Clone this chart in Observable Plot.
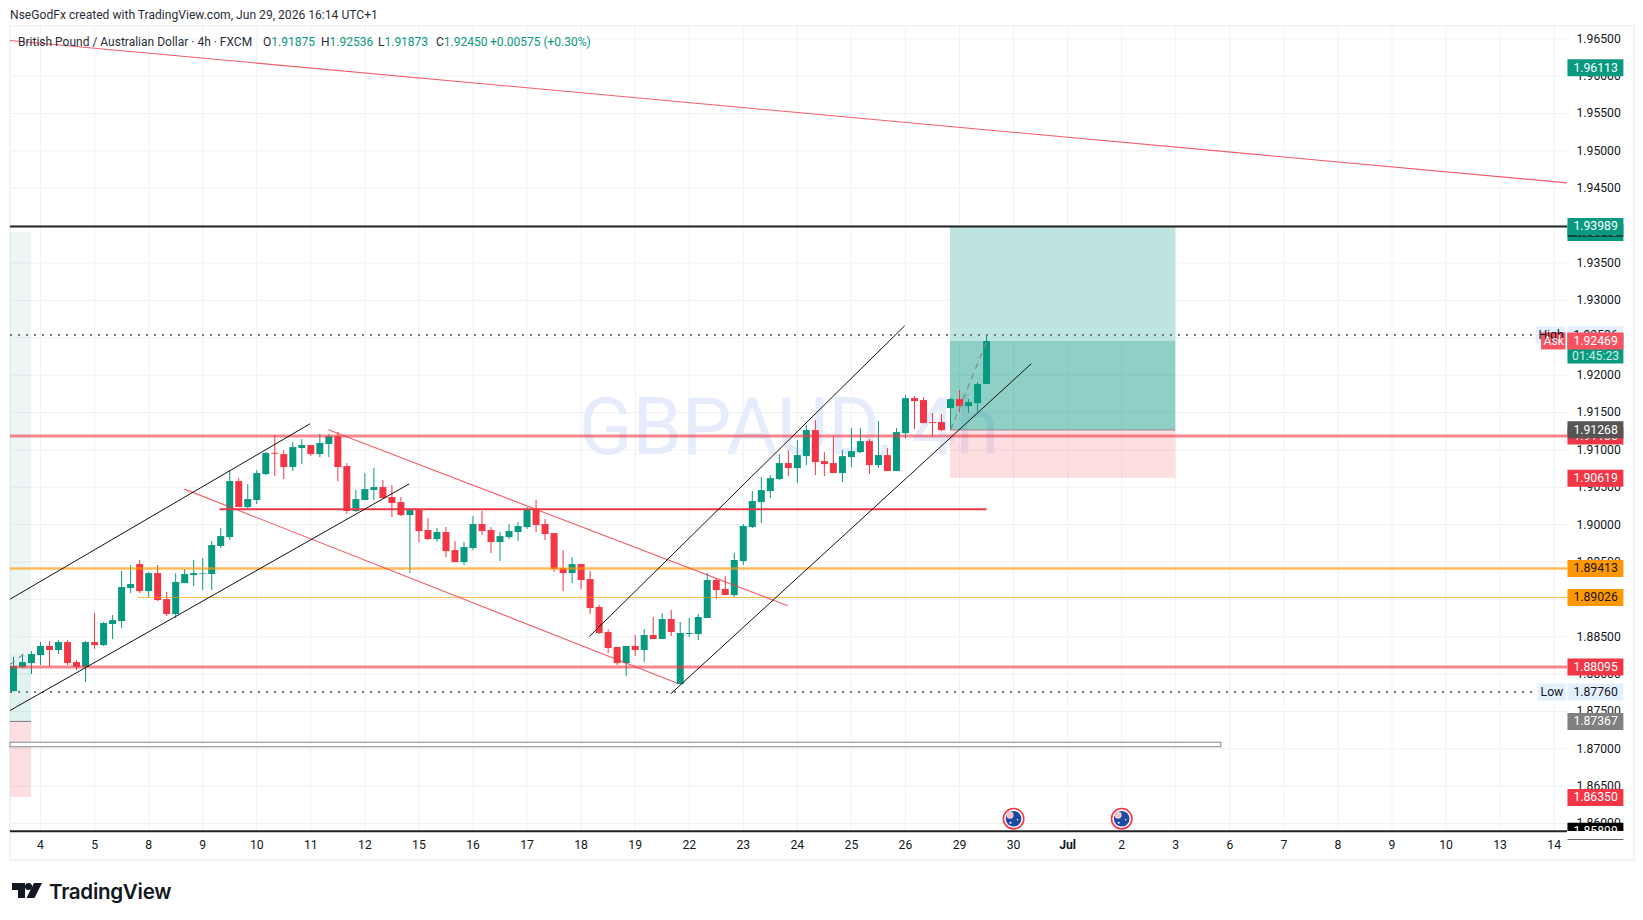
<!DOCTYPE html>
<html><head><meta charset="utf-8">
<script src="https://cdn.jsdelivr.net/npm/d3@7"></script>
<script src="https://cdn.jsdelivr.net/npm/@observablehq/plot@0.6"></script>
<style>
html,body{margin:0;padding:0;background:#fff;width:1643px;height:920px;overflow:hidden}
body{font-family:Roboto,sans-serif;color:#131722;position:relative}
#head{position:absolute;left:10px;top:6px;font-size:12.1px;line-height:18px;white-space:nowrap;color:#2a2e39}
#frame{position:absolute;left:9px;top:25px;width:1622px;height:832px;border:2px solid #f2f3f5;pointer-events:none}
#chart{position:absolute;left:0;top:26px}
#legend{position:absolute;left:0;top:33px;height:18px;font-size:12px;line-height:18px;white-space:nowrap;color:#2a2e39}
#legend span{position:absolute;top:0}
#legend b{font-weight:400;color:#089981}
#brand{position:absolute;left:12px;top:879px;height:24px;display:flex;align-items:center}
#brand div{margin-left:7px;font:600 20.6px Inter,Roboto,sans-serif;letter-spacing:-.3px;color:#131722}
</style></head>
<body>
<div id="head">NseGodFx created with TradingView.com, Jun 29, 2026 16:14 UTC+1</div>
<div id="frame"></div>
<div id="chart"></div>
<div id="legend">
<span style="left:18px">British Pound / Australian Dollar · 4h · FXCM</span>
<span style="left:263px">O<b>1.91875</b></span>
<span style="left:321px">H<b>1.92536</b></span>
<span style="left:378px">L<b>1.91873</b></span>
<span style="left:436px">C<b>1.92450</b></span>
<span style="left:490px"><b>+0.00575 (+0.30%)</b></span>
</div>
<div id="brand">
<svg width="30" height="16" viewBox="0 0 30 16"><path d="M0 0H13V15H6V7H0Z" fill="#131722"/><circle cx="16.5" cy="3.6" r="3.5" fill="#131722"/><path d="M22 0H30L22.5 15H14.5Z" fill="#131722"/></svg>
<div>TradingView</div>
</div>
<script>
// Candles, 4h bars, in bar order
const opens = [
1.87766,1.88088,1.88141,1.88248,1.88369,1.88315,1.88422,1.88154,1.88088,1.88422,
1.88382,1.88663,1.88703,1.89145,1.89466,1.89104,1.89345,1.88997,1.88797,1.89211,
1.89318,1.89336,1.89332,1.89707,1.89827,1.90576,1.90228,1.90322,1.90670,1.90955,
1.90937,1.90764,1.91018,1.91058,1.90937,1.91071,1.91178,1.90777,1.90175,1.90322,
1.90456,1.90496,1.90362,1.90295,1.90121,1.90202,1.89921,1.89800,1.89894,1.89653,
1.89492,1.89680,1.90001,1.89921,1.89760,1.89827,1.89894,1.89961,1.90202,1.90001,
1.89880,1.89412,1.89345,1.89466,1.89265,1.88891,1.88556,1.88356,1.88141,1.88369,
1.88315,1.88516,1.88463,1.88730,1.87860,1.88530,1.88530,1.88744,1.89252,1.89132,
1.89051,1.89506,1.89961,1.90295,1.90442,1.90603,1.90817,1.90750,1.90910,1.91258,
1.90843,1.90817,1.90683,1.90897,1.90964,1.91111,1.90790,1.90924,1.90710,1.91218,
1.91686,1.91660,1.91365,1.91365,1.91553,1.91673,1.91579,1.91619,1.91875];
const highs = [
1.88226,1.88262,1.88302,1.88422,1.88435,1.88449,1.88449,1.88181,1.88435,1.88810,
1.88690,1.88783,1.89372,1.89452,1.89519,1.89359,1.89452,1.89091,1.89345,1.89399,
1.89519,1.89546,1.89773,1.89947,1.90723,1.90616,1.90536,1.90723,1.90964,1.91192,
1.90991,1.91098,1.91138,1.91058,1.91205,1.91205,1.91232,1.90817,1.90456,1.90683,
1.90750,1.90590,1.90523,1.90362,1.90215,1.90202,1.90081,1.89947,1.89961,1.89773,
1.89760,1.90108,1.90175,1.89961,1.89894,1.90001,1.90028,1.90228,1.90322,1.90068,
1.89880,1.89653,1.89559,1.89466,1.89372,1.88917,1.88596,1.88356,1.88370,1.88516,
1.88596,1.88757,1.88810,1.88851,1.88690,1.88744,1.88797,1.89346,1.89279,1.89306,
1.89613,1.90001,1.90443,1.90629,1.90656,1.90937,1.90991,1.91124,1.91325,1.91392,
1.90964,1.91178,1.90991,1.91285,1.91285,1.91138,1.91379,1.91017,1.91285,1.91726,
1.91713,1.91700,1.91486,1.91472,1.91695,1.91793,1.91673,1.91900,1.92536];
const lows = [
1.87760,1.88074,1.87994,1.88114,1.88101,1.88262,1.88114,1.88047,1.87887,1.88328,
1.88369,1.88462,1.88609,1.89078,1.89078,1.89024,1.88971,1.88770,1.88743,1.89211,
1.89171,1.89118,1.89118,1.89680,1.89787,1.90228,1.90202,1.90268,1.90656,1.90643,
1.90603,1.90710,1.90804,1.90911,1.90897,1.90897,1.90576,1.90135,1.90161,1.90322,
1.90322,1.90349,1.90095,1.90108,1.89345,1.89760,1.89787,1.89760,1.89559,1.89492,
1.89452,1.89653,1.89854,1.89613,1.89506,1.89800,1.89773,1.89934,1.89894,1.89787,
1.89359,1.89105,1.89211,1.89131,1.88797,1.88529,1.88275,1.88115,1.87968,1.88235,
1.88155,1.88463,1.88463,1.88503,1.87860,1.88489,1.88449,1.88744,1.88998,1.89051,
1.89025,1.89453,1.89948,1.90014,1.90348,1.90589,1.90643,1.90549,1.90790,1.90656,
1.90643,1.90683,1.90562,1.90763,1.90950,1.90669,1.90750,1.90710,1.90710,1.91151,
1.91272,1.91352,1.91178,1.91245,1.91258,1.91499,1.91486,1.91499,1.91873];
const closes = [
1.88101,1.88154,1.88262,1.88369,1.88315,1.88422,1.88141,1.88088,1.88422,1.88382,
1.88676,1.88716,1.89158,1.89198,1.89104,1.89345,1.88984,1.88797,1.89225,1.89332,
1.89345,1.89345,1.89720,1.89840,1.90576,1.90228,1.90335,1.90683,1.90951,1.90942,
1.90764,1.91031,1.91058,1.90937,1.91085,1.91178,1.90764,1.90175,1.90335,1.90469,
1.90496,1.90349,1.90282,1.90121,1.90202,1.89907,1.89800,1.89894,1.89640,1.89492,
1.89693,1.90001,1.89907,1.89760,1.89840,1.89907,1.89974,1.90202,1.89987,1.89867,
1.89399,1.89345,1.89466,1.89252,1.88877,1.88543,1.88342,1.88141,1.88369,1.88315,
1.88516,1.88463,1.88730,1.88556,1.88543,1.88543,1.88757,1.89252,1.89118,1.89051,
1.89520,1.89975,1.90309,1.90455,1.90616,1.90817,1.90750,1.90924,1.91258,1.90830,
1.90803,1.90683,1.90910,1.90977,1.91111,1.90790,1.90924,1.90710,1.91231,1.91686,
1.91646,1.91352,1.91352,1.91258,1.91673,1.91579,1.91633,1.91874,1.92450];

// Time axis: a label every six bars
const dayLabels = ["4","5","8","9","10","11","12","15","16","17","18","19","22","23","24","25","26","29","30","Jul","2","3","6","7","8","9","10","13","14"];
const dayBars = dayLabels.map((_, k) => 3 + 6 * k);
const monthBar = dayBars[dayLabels.indexOf("Jul")];
const priceTicks = d3.range(1.86, 1.9651, 0.005).map(v => +v.toFixed(3));

// Drawn levels
const highPrice = 1.92536, lowPrice = 1.87760;
const targetPrice = 1.93989, entryPrice = 1.91268, stopPrice = 1.90619, lastClose = 1.92450;
const oldTarget = 1.93910, oldEntry = 1.87367, oldStop = 1.86350, oldClose = 1.88262;
const resistance = 1.91185, support = 1.88095, midLevel = 1.90206, orangeA = 1.89413, orangeB = 1.89026, floorPrice = 1.85899;
const boxBars = [104, 129], oldBoxEnd = 2;
const rangeBox = {x2: 134.05, top: 1.87081, bottom: 1.87022};

// Channels: [bar, price, bar, price]
const blackLines = [[-0.39,1.89002,32.91,1.91349],[-0.39,1.87513,43.93,1.90546],[63.91,1.88503,98.91,1.92660],[72.94,1.87736,112.96,1.92152]];
const redLines = [[34.94,1.91268,85.93,1.88914],[18.97,1.90475,73.67,1.87878],[-0.39,1.96477,172.42,1.94573]];
const dashLines = [[104,entryPrice,108,lastClose],[-0.39,1.88128,1.5,1.88302]];
const calendarBars = [111, 123];
const flagPrice = 1.86065;

// Price-scale badges
const badgesUnder = [
 {p:oldTarget, t:"1.93910", bg:"#089981", fg:"#fff"},
 {p:resistance, t:"1.91185", bg:"#F23645", fg:"#fff"},
 {p:highPrice, t:"1.92536", bg:"#e3effd", fg:"#131722"},
 {p:1.92356, t:"", bg:"#089981", fg:"#fff", tall:true}
];
const badgesOver = [
 {p:1.96113, t:"1.96113", bg:"#089981", fg:"#fff"},
 {p:targetPrice, t:"1.93989", bg:"#089981", fg:"#fff"},
 {p:1.92458, t:"1.92469", bg:"#F7525F", fg:"#fff"},
 {p:entryPrice, t:"1.91268", bg:"#555555", fg:"#fff"},
 {p:stopPrice, t:"1.90619", bg:"#F23645", fg:"#fff"},
 {p:orangeA, t:"1.89413", bg:"#FF9800", fg:"#131722"},
 {p:orangeB, t:"1.89026", bg:"#FF9800", fg:"#131722"},
 {p:support, t:"1.88095", bg:"#F23645", fg:"#fff"},
 {p:lowPrice, t:"1.87760", bg:"#e3effd", fg:"#131722"},
 {p:oldEntry, t:"1.87367", bg:"#808080", fg:"#fff"},
 {p:oldStop, t:"1.86350", bg:"#F23645", fg:"#fff"},
 {p:floorPrice, t:"1.85899", bg:"#000000", fg:"#fff"}
];
const sideTags = [
 {p:highPrice, t:"High", bg:"#e3effd", fg:"#131722", x1:169.0, x2:172.3},
 {p:1.92458, t:"Ask", bg:"#F7525F", fg:"#fff", x1:169.6, x2:172.3},
 {p:lowPrice, t:"Low", bg:"#e3effd", fg:"#131722", x1:169.2, x2:172.3}
];

const candles = opens.map((o, i) => ({i, o, h: highs[i], l: lows[i], c: closes[i], col: closes[i] >= o ? "#089981" : "#F23645"}));
const seg = a => ({x1:a[0], y1:a[1], x2:a[2], y2:a[3]});

const xMin = -0.333, xMax = 172.48;         // pane edges in bars
const yMax = 1.96665, yMin = 1.85894;       // pane edges in price
const badgeX1 = 172.53, badgeX2 = 178.74, badgeMid = 175.6;
const font = "Roboto, sans-serif";
const labelSize = 12.2;

function badgeMarks(list) {
  return [
    Plot.ruleY(list, {y:"p", x1:badgeX1, x2:badgeX2, stroke:"bg", strokeWidth:d => d.tall ? 30 : 17}),
    Plot.text(list, {x:badgeMid, y:"p", text:"t", fill:"fg", fontSize:labelSize, fontFamily:font})
  ];
}

const chart = Plot.plot({
  width: 1643, height: 833,
  marginLeft: 10, marginRight: 76, marginTop: 0, marginBottom: 28,
  x: {type:"linear", domain:[xMin, xMax], axis:null},
  y: {type:"linear", domain:[yMin, yMax], axis:null},
  style: {background:"transparent", fontFamily:font},
  marks: [
    Plot.ruleX(dayBars, {x:d=>d, stroke:"#f0f1f3", strokeWidth:1}),
    Plot.ruleY(priceTicks, {y:d=>d, x1:xMin, x2:xMax, stroke:"#f0f1f3", strokeWidth:1}),
    Plot.text(["GBPAUD, 4h"], {frameAnchor:"middle", text:d=>d, fontSize:79, fill:"#e7ecfd", fontFamily:font}),

    // position boxes
    Plot.rect([{a:boxBars[0],b:boxBars[1],t:targetPrice,u:lastClose}], {x1:"a",x2:"b",y1:"u",y2:"t",fill:"#bbe3dd",fillOpacity:0.95}),
    Plot.rect([{a:boxBars[0],b:boxBars[1],t:lastClose,u:entryPrice}], {x1:"a",x2:"b",y1:"u",y2:"t",fill:"#089981",fillOpacity:0.46}),
    Plot.rect([{a:boxBars[0],b:boxBars[1],t:entryPrice,u:stopPrice}], {x1:"a",x2:"b",y1:"u",y2:"t",fill:"#F23645",fillOpacity:0.16}),
    Plot.rect([{a:xMin,b:oldBoxEnd,t:oldTarget,u:oldClose}], {x1:"a",x2:"b",y1:"u",y2:"t",fill:"#089981",fillOpacity:0.08}),
    Plot.rect([{a:xMin,b:oldBoxEnd,t:oldClose,u:oldEntry}], {x1:"a",x2:"b",y1:"u",y2:"t",fill:"#089981",fillOpacity:0.12}),
    Plot.rect([{a:xMin,b:oldBoxEnd,t:oldEntry,u:oldStop}], {x1:"a",x2:"b",y1:"u",y2:"t",fill:"#F23645",fillOpacity:0.16}),
    Plot.ruleY([entryPrice], {x1:boxBars[0], x2:boxBars[1], y:d=>d, stroke:"#7d7d7d", strokeWidth:1}),
    Plot.ruleY([oldEntry], {x1:xMin, x2:oldBoxEnd, y:d=>d, stroke:"#7d7d7d", strokeWidth:1}),

    // candles
    Plot.ruleX(candles, {x:"i", y1:"l", y2:"h", stroke:"col", strokeWidth:1}),
    Plot.ruleX(candles, {x:"i", y1:"o", y2:"c", stroke:"col", strokeWidth:7}),

    // drawings
    Plot.link(dashLines.map(seg), {x1:"x1",y1:"y1",x2:"x2",y2:"y2",stroke:"#8a8a8a",strokeWidth:1.2,strokeDasharray:"6 5"}),
    Plot.ruleY([highPrice, lowPrice], {y:d=>d, x1:xMin, x2:xMax, stroke:"#787878", strokeWidth:2, strokeDasharray:"2 6"}),
    Plot.ruleY([resistance, support], {y:d=>d, x1:xMin, x2:xMax, stroke:"#F23645", strokeOpacity:0.6, strokeWidth:3}),
    Plot.ruleY([orangeA], {y:d=>d, x1:xMin, x2:xMax, stroke:"#FF9800", strokeOpacity:0.65, strokeWidth:2.4}),
    Plot.ruleY([orangeB], {y:d=>d, x1:13.85, x2:xMax, stroke:"#FF9800", strokeOpacity:0.7, strokeWidth:1}),
    Plot.ruleY([midLevel], {y:d=>d, x1:22.92, x2:108.05, stroke:"#F23645", strokeWidth:2.2}),
    Plot.link(redLines.map(seg), {x1:"x1",y1:"y1",x2:"x2",y2:"y2",stroke:"#F23645",strokeOpacity:0.8,strokeWidth:1.1}),
    Plot.link(blackLines.map(seg), {x1:"x1",y1:"y1",x2:"x2",y2:"y2",stroke:"#111",strokeWidth:1}),
    Plot.ruleY([targetPrice], {y:d=>d, x1:xMin, x2:xMax, stroke:"#222", strokeWidth:2}),

    // rectangle near the bottom
    Plot.rect([rangeBox], {x1:xMin, x2:"x2", y1:"bottom", y2:"top", fill:"#fff", stroke:"#9a9a9a", strokeWidth:1.2}),

    // calendar flags
    Plot.dot(calendarBars, {x:d=>d, y:flagPrice, r:10.2, fill:"#fff", stroke:"#F23645", strokeWidth:1.6}),
    Plot.dot(calendarBars, {x:d=>d, y:flagPrice, r:7.8, fill:"#1c4aa0"}),
    Plot.dot(calendarBars, {x:d=>d, y:flagPrice, dx:-3.6, dy:-3.6, r:3.6, fill:"#f3c6cc"}),
    Plot.dot(calendarBars, {x:d=>d, y:flagPrice, dy:4, dx:-3, r:1, fill:"#fff"}),
    Plot.dot(calendarBars, {x:d=>d, y:flagPrice, dx:4, dy:1, r:0.8, fill:"#fff"}),

    // price scale
    Plot.axisY(priceTicks, {anchor:"right", tickSize:0, tickPadding:9, tickFormat:d=>d.toFixed(5), fontSize:labelSize, fill:"#131722", fontFamily:font}),
    ...badgeMarks(badgesUnder),
    Plot.text(["01:45:23"], {x:badgeMid, y:1.92253, text:d=>d, fill:"#cfeee7", fontSize:labelSize, fontFamily:font}),
    ...badgeMarks(badgesOver),
    Plot.ruleY([1.93862], {y:d=>d, x1:badgeX1, x2:badgeX2, stroke:"#000", strokeWidth:1}),
    Plot.ruleY(sideTags, {y:"p", x1:"x1", x2:"x2", stroke:"bg", strokeWidth:17}),
    Plot.text(sideTags, {x:d=>(d.x1+d.x2)/2, y:"p", text:"t", fill:"fg", fontSize:labelSize, fontFamily:font}),
    Plot.rect([{}], {x1:badgeX1-0.2, x2:badgeX2+0.2, y1:yMin, y2:yMin-0.0011, fill:"#fff"}),
    Plot.ruleY([floorPrice], {y:d=>d, x1:xMin, x2:xMax, stroke:"#222", strokeWidth:2}),

    // time scale
    Plot.axisX(dayBars.filter(d=>d!==monthBar), {anchor:"bottom", tickSize:0, tickPadding:9, tickFormat:d=>dayLabels[dayBars.indexOf(d)], fontSize:labelSize, fill:"#131722", fontFamily:font}),
    Plot.axisX([monthBar], {anchor:"bottom", tickSize:0, tickPadding:9, tickFormat:d=>dayLabels[dayBars.indexOf(d)], fontSize:labelSize, fontWeight:700, fill:"#131722", fontFamily:font})
  ]
});
document.getElementById("chart").appendChild(chart);
</script>
</body></html>
